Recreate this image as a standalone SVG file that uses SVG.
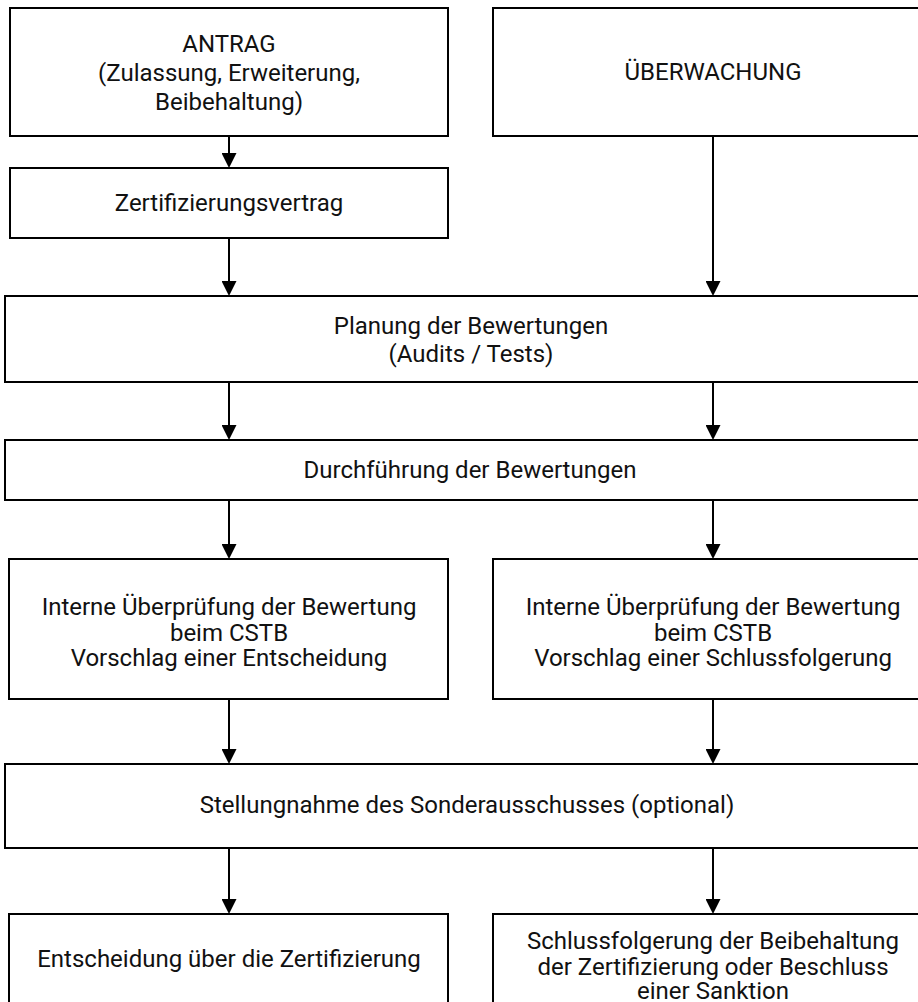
<svg xmlns="http://www.w3.org/2000/svg" width="918" height="1002" viewBox="0 0 918 1002">
<defs>
<style>
.box{fill:#fff;stroke:#000;stroke-width:2}
.t{font-family:Roboto,"Liberation Sans",sans-serif;font-size:24px;fill:#111;text-anchor:middle}
.c{stroke:#000;stroke-width:2;fill:none;marker-end:url(#ah)}
</style>
<marker id="ah" markerUnits="userSpaceOnUse" viewBox="0 0 15 15" markerWidth="15" markerHeight="15" refX="0" refY="7.5" orient="auto">
<path d="M0,0 L15,7.5 L0,15 Z" fill="#000"/>
</marker>
</defs>
<rect width="918" height="1002" fill="#fff"/>
<g id="connectors">
<line class="c" x1="229" y1="136" x2="229" y2="153"/>
<line class="c" x1="229" y1="238" x2="229" y2="281"/>
<line class="c" x1="713" y1="136" x2="713" y2="281"/>
<line class="c" x1="229" y1="382" x2="229" y2="425"/>
<line class="c" x1="713" y1="382" x2="713" y2="425"/>
<line class="c" x1="229" y1="500" x2="229" y2="544"/>
<line class="c" x1="713" y1="500" x2="713" y2="544"/>
<line class="c" x1="229" y1="699" x2="229" y2="749"/>
<line class="c" x1="713" y1="699" x2="713" y2="749"/>
<line class="c" x1="229" y1="848" x2="229" y2="899"/>
<line class="c" x1="713" y1="848" x2="713" y2="899"/>
</g>
<g id="antrag">
<rect class="box" x="10" y="8" width="438" height="128"/>
<text class="t" x="229" y="52">ANTRAG</text>
<text class="t" x="229" y="81">(Zulassung, Erweiterung,</text>
<text class="t" x="229" y="110">Beibehaltung)</text>
</g>
<g id="ueberwachung">
<rect class="box" x="493" y="8" width="440" height="128"/>
<text class="t" x="713" y="80">ÜBERWACHUNG</text>
</g>
<g id="vertrag">
<rect class="box" x="10" y="168" width="438" height="70"/>
<text class="t" x="229" y="211">Zertifizierungsvertrag</text>
</g>
<g id="planung">
<rect class="box" x="5" y="296" width="930" height="86"/>
<text class="t" x="471" y="334">Planung der Bewertungen</text>
<text class="t" x="471" y="362">(Audits / Tests)</text>
</g>
<g id="durchfuehrung">
<rect class="box" x="5" y="440" width="930" height="60"/>
<text class="t" x="470" y="478">Durchführung der Bewertungen</text>
</g>
<g id="pruefung-links">
<rect class="box" x="9" y="559" width="439" height="140"/>
<text class="t" x="229" y="615">Interne Überprüfung der Bewertung</text>
<text class="t" x="229" y="641">beim CSTB</text>
<text class="t" x="229" y="666">Vorschlag einer Entscheidung</text>
</g>
<g id="pruefung-rechts">
<rect class="box" x="493" y="559" width="440" height="140"/>
<text class="t" x="713" y="615">Interne Überprüfung der Bewertung</text>
<text class="t" x="713" y="641">beim CSTB</text>
<text class="t" x="713" y="666">Vorschlag einer Schlussfolgerung</text>
</g>
<g id="stellungnahme">
<rect class="box" x="5" y="764" width="930" height="84"/>
<text class="t" x="467" y="813">Stellungnahme des Sonderausschusses (optional)</text>
</g>
<g id="entscheidung">
<rect class="box" x="9" y="914" width="439" height="100"/>
<text class="t" x="229" y="967">Entscheidung über die Zertifizierung</text>
</g>
<g id="schlussfolgerung">
<rect class="box" x="493" y="914" width="440" height="100"/>
<text class="t" x="713" y="949">Schlussfolgerung der Beibehaltung</text>
<text class="t" x="713" y="975">der Zertifizierung oder Beschluss</text>
<text class="t" x="713" y="999">einer Sanktion</text>
</g>
</svg>
